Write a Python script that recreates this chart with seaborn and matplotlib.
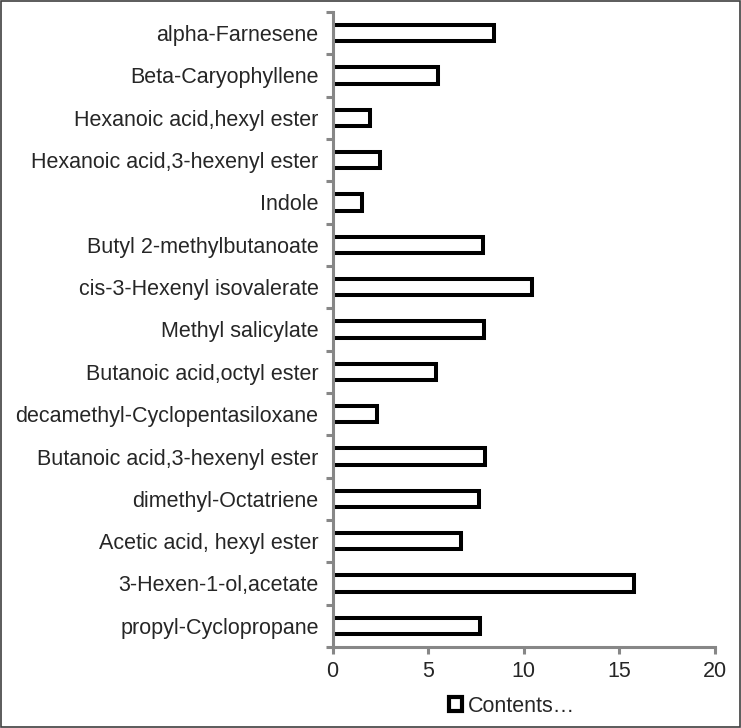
import matplotlib
matplotlib.use("Agg")
import matplotlib.pyplot as plt
import seaborn as sns
import pandas as pd
from matplotlib.patches import Patch, Rectangle
from matplotlib.ticker import FixedLocator

# compostos, de cima para baixo
compostos = [
    "alpha-Farnesene",
    "Beta-Caryophyllene",
    "Hexanoic acid,hexyl ester",
    "Hexanoic acid,3-hexenyl ester",
    "Indole",
    "Butyl 2-methylbutanoate",
    "cis-3-Hexenyl isovalerate",
    "Methyl salicylate",
    "Butanoic acid,octyl ester",
    "decamethyl-Cyclopentasiloxane",
    "Butanoic acid,3-hexenyl ester",
    "dimethyl-Octatriene",
    "Acetic acid, hexyl ester",
    "3-Hexen-1-ol,acetate",
    "propyl-Cyclopropane",
]
conteudos = [8.43, 5.52, 1.94, 2.46, 1.52, 7.88, 10.42, 7.9, 5.39, 2.33,
             7.98, 7.64, 6.73, 15.76, 7.7]
x_ticks = [0, 5, 10, 15, 20]
legenda = "Contents…"

df = pd.DataFrame({"Composto": compostos, "Conteudo": conteudos})

sns.set_style("white")
plt.rcParams["font.family"] = ["Liberation Sans", "DejaVu Sans"]

fig = plt.figure(figsize=(7.41, 7.28), dpi=100)
ax = fig.add_axes([332.5 / 741, 1 - 647 / 728, (715 - 332.5) / 741, (647 - 12) / 728])

sns.barplot(data=df, x="Conteudo", y="Composto", orient="h", ax=ax,
            color="white", edgecolor="black", linewidth=2.9, width=0.39)

cinza = "#878787"
ax.set_xlim(0, 20)
ax.set_ylim(len(compostos) - 0.5, -0.5)
ax.set_xticks(x_ticks)
ax.set_xlabel("")
ax.set_ylabel("")
for lado in ["top", "right"]:
    ax.spines[lado].set_visible(False)
for lado in ["left", "bottom"]:
    ax.spines[lado].set_color(cinza)
    ax.spines[lado].set_linewidth(2.2)

# marcas do eixo y entre as categorias
ax.yaxis.set_minor_locator(FixedLocator([i - 0.5 for i in range(len(compostos) + 1)]))
ax.tick_params(axis="y", which="major", length=0, pad=10, labelsize=15.5)
ax.tick_params(axis="y", which="minor", length=5, width=2.2, color=cinza, left=True)
ax.tick_params(axis="x", which="major", length=5, width=2.2, color=cinza,
               bottom=True, pad=5, labelsize=15.5)

handle = Patch(facecolor="white", edgecolor="black", linewidth=3)
fig.legend([handle], [legenda], loc="center", bbox_to_anchor=(512 / 741, 1 - 706 / 728),
           frameon=False, fontsize=15.5, handlelength=0.6, handleheight=0.6,
           handletextpad=0.3, borderpad=0)

# borda da figura
fig.patches.append(Rectangle((0.001, 0.001), 0.998, 0.998, transform=fig.transFigure,
                             fill=False, edgecolor="#404040", linewidth=1.2))

fig.savefig("out.png", dpi=100, facecolor="white")
